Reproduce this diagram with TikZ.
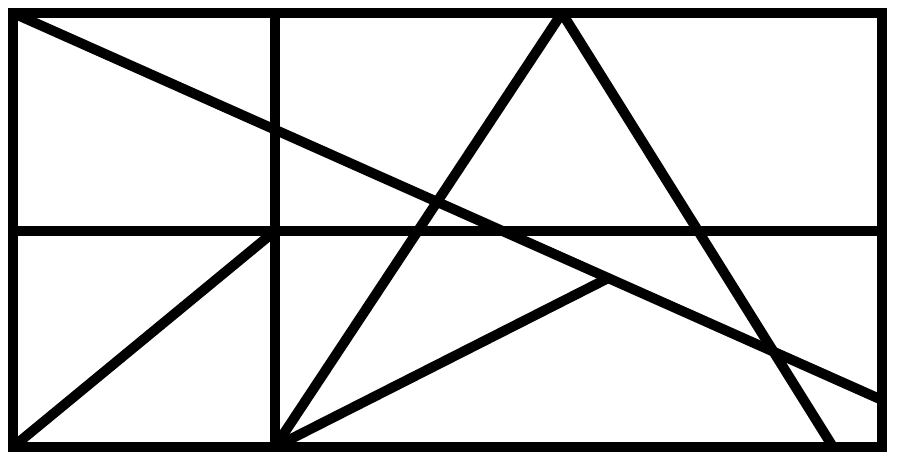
\documentclass[tikz,border=0pt]{standalone}
\usepackage{amsmath,amsfonts,amssymb,amsthm}
\usepackage{tikz}
\usetikzlibrary{calc}

\begin{document}
\begin{tikzpicture}
\tikzstyle{seg}=[-,line width=1mm]
    \useasboundingbox (0,0) rectangle (9,4.65);
    \coordinate (tl) at (0.13,4.52);
    \coordinate (tr) at (8.82,4.52);
    \coordinate (br) at (8.82,0.18);
    \coordinate (bl) at (0.13,0.18);
    \coordinate (mt) at (2.75,4.52);
    \coordinate (mb) at (2.75,0.18);
    \coordinate (ml) at (0.13,2.34);
    \coordinate (mr) at (8.82,2.34);
    \coordinate (m) at (2.75,2.34);
    \coordinate (re) at (8.82,0.65);
    \coordinate (apex) at (5.62,4.52);
    \coordinate (foot) at (8.33,0.18);
    \coordinate (p) at ($(tl)!0.685!(re)$);
    \draw[seg] (tl) -- (tr) -- (br) -- (bl) -- cycle;
    \draw[seg] (mt) to (mb);
    \draw[seg] (ml) to (mr);
    \draw[seg] (tl) to (re);
    \draw[seg] (mb) to (apex);
    \draw[seg] (apex) to (foot);
    \draw[seg] (bl) to (m);
    \draw[seg] (mb) to (p);
  \end{tikzpicture}
\end{document}
